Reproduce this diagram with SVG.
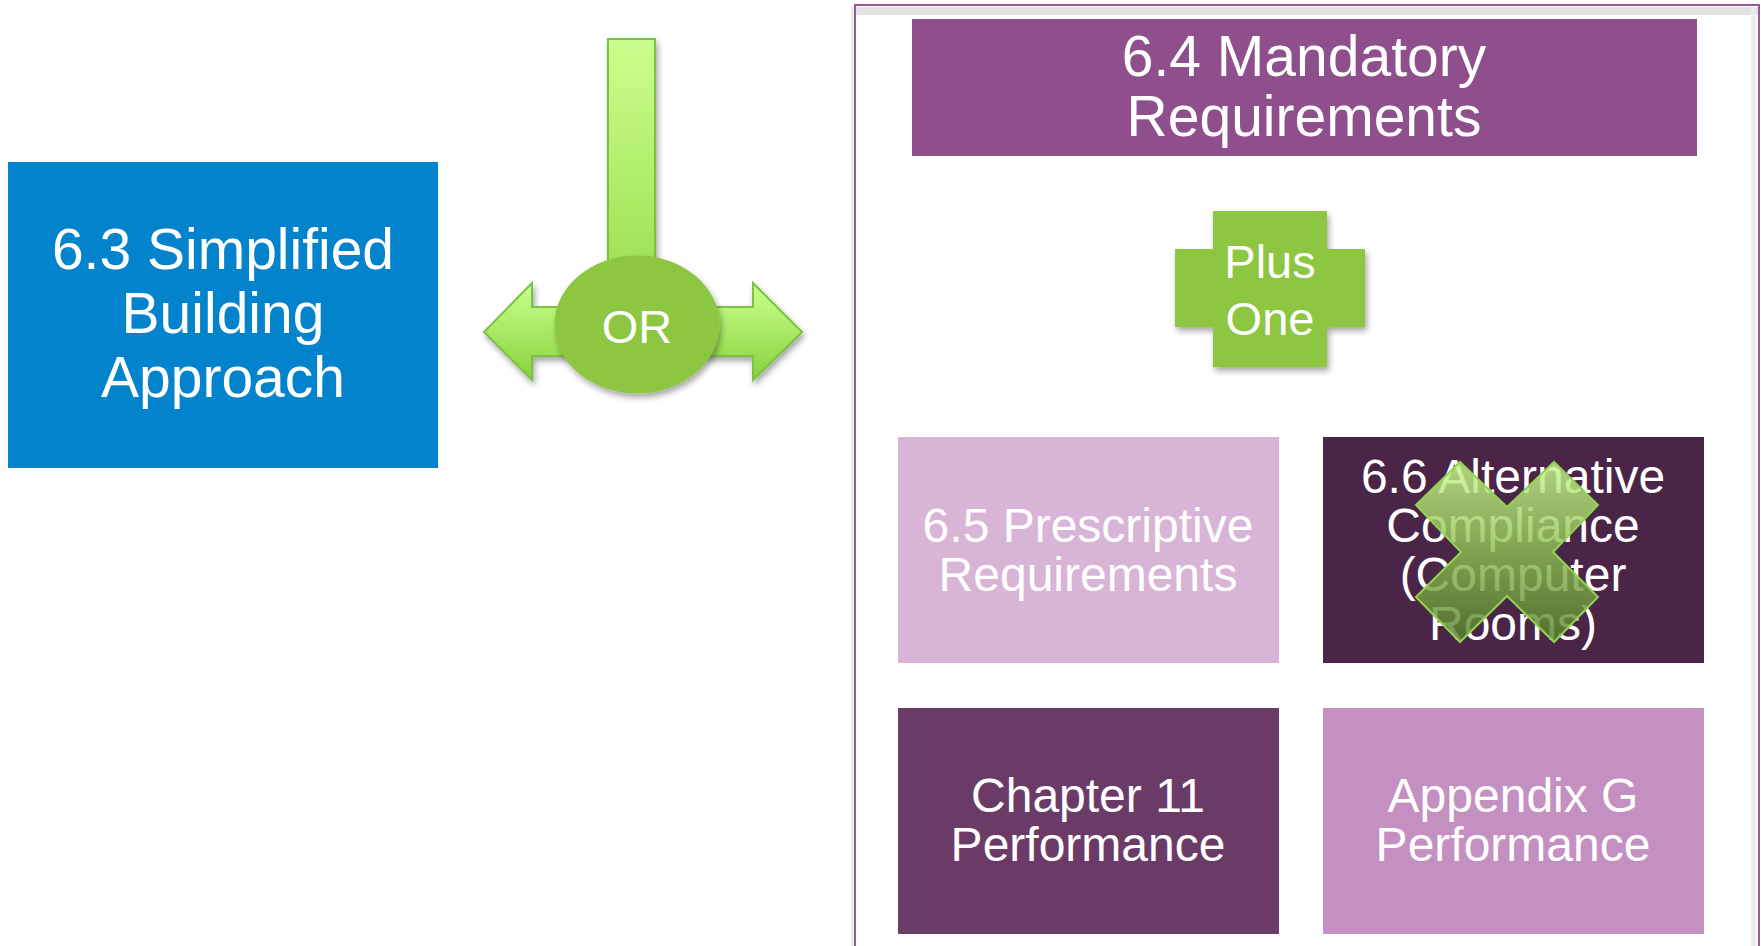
<svg xmlns="http://www.w3.org/2000/svg" width="1761" height="946" viewBox="0 0 1761 946">
<style>
  .t { font-family: "Liberation Sans", Arial, sans-serif; fill: #ffffff; text-anchor: middle; }
  .big { font-size: 57px; }
  .mid { font-size: 48px; }
  .grn { font-size: 47px; }
  .arrow { stroke: #7cc242; stroke-width: 2; }
</style>
<defs>
  <linearGradient id="gBar" x1="0" y1="0" x2="0" y2="1">
    <stop offset="0" stop-color="#ccff8e"/>
    <stop offset="1" stop-color="#9ee052"/>
  </linearGradient>
  <linearGradient id="gSide" x1="0" y1="0" x2="0" y2="1">
    <stop offset="0" stop-color="#ccff8e"/>
    <stop offset="1" stop-color="#86d23c"/>
  </linearGradient>
  <linearGradient id="gX" x1="0" y1="0" x2="0" y2="1">
    <stop offset="0" stop-color="#c9f98e"/>
    <stop offset="0.5" stop-color="#8cbd50"/>
    <stop offset="1" stop-color="#567f2c"/>
  </linearGradient>
  <filter id="sh" x="-20%" y="-20%" width="140%" height="140%">
    <feGaussianBlur in="SourceAlpha" stdDeviation="3"/>
    <feOffset dx="2" dy="4" result="b"/>
    <feComponentTransfer><feFuncA type="linear" slope="0.35"/></feComponentTransfer>
    <feMerge><feMergeNode/><feMergeNode in="SourceGraphic"/></feMerge>
  </filter>
</defs>

<rect width="1761" height="946" fill="#ffffff"/>

<g id="container">
  <rect x="855" y="5" width="904" height="960" fill="#ffffff" stroke="#9a5a9a" stroke-width="2"/>
  <rect x="856" y="7" width="902" height="8" fill="#e2e2e2"/>
  <rect x="1751" y="7" width="5" height="940" fill="#ececec"/>
  <rect x="851" y="7" width="3" height="940" fill="#ececec"/>
</g>

<g id="simplified">
  <rect x="8" y="162" width="430" height="306" fill="#0283cc"/>
  <text class="t big" x="223" y="269">6.3 Simplified</text>
  <text class="t big" x="223" y="333">Building</text>
  <text class="t big" x="223" y="397">Approach</text>
</g>

<g id="connectors">
  <g filter="url(#sh)">
    <rect class="arrow" x="608" y="39" width="47" height="240" fill="url(#gBar)"/>
    <polygon class="arrow" fill="url(#gSide)" points="484,332 532,283 532,307 605,307 605,356 532,356 532,380"/>
    <polygon class="arrow" fill="url(#gSide)" points="802,332 753,283 753,307 668,307 668,356 753,356 753,380"/>
  </g>
</g>

<g id="or">
  <ellipse cx="637" cy="324.5" rx="82.5" ry="69" fill="#8dc63f" filter="url(#sh)"/>
  <text class="t grn" x="637" y="343">OR</text>
</g>

<g id="mandatory">
  <rect x="912" y="19" width="785" height="137" fill="#8e4f8c"/>
  <text class="t big" x="1304" y="76">6.4 Mandatory</text>
  <text class="t big" x="1304" y="136">Requirements</text>
</g>

<g id="plusone">
  <polygon fill="#8dc63f" filter="url(#sh)" points="1213,211 1327,211 1327,249 1365,249 1365,327 1327,327 1327,367 1213,367 1213,327 1175,327 1175,249 1213,249"/>
  <text class="t grn" x="1270" y="278">Plus</text>
  <text class="t grn" x="1270" y="335">One</text>
</g>

<g id="prescriptive">
  <rect x="898" y="437" width="381" height="226" fill="#d8b4d6"/>
  <text class="t mid" x="1088" y="542">6.5 Prescriptive</text>
  <text class="t mid" x="1088" y="591">Requirements</text>
</g>

<g id="alternative">
  <rect x="1323" y="437" width="381" height="226" fill="#4a2548"/>
  <text class="t mid" x="1513" y="493">6.6 Alternative</text>
  <text class="t mid" x="1513" y="542">Compliance</text>
  <text class="t mid" x="1513" y="591">(Computer</text>
  <text class="t mid" x="1513" y="640">Rooms)</text>
</g>

<g id="cross">
  <polygon fill="url(#gX)" fill-opacity="0.82" stroke="#92d450" stroke-width="2" points="1416,505 1460,462 1507,507 1554,462 1598,505 1553,552 1598,597 1554,642 1507,596 1460,642 1416,597 1461,552"/>
</g>

<g id="chapter11">
  <rect x="898" y="708" width="381" height="226" fill="#6b3b68"/>
  <text class="t mid" x="1088" y="812">Chapter 11</text>
  <text class="t mid" x="1088" y="861">Performance</text>
</g>

<g id="appendixg">
  <rect x="1323" y="708" width="381" height="226" fill="#c490c1"/>
  <text class="t mid" x="1513" y="812">Appendix G</text>
  <text class="t mid" x="1513" y="861">Performance</text>
</g>
</svg>
